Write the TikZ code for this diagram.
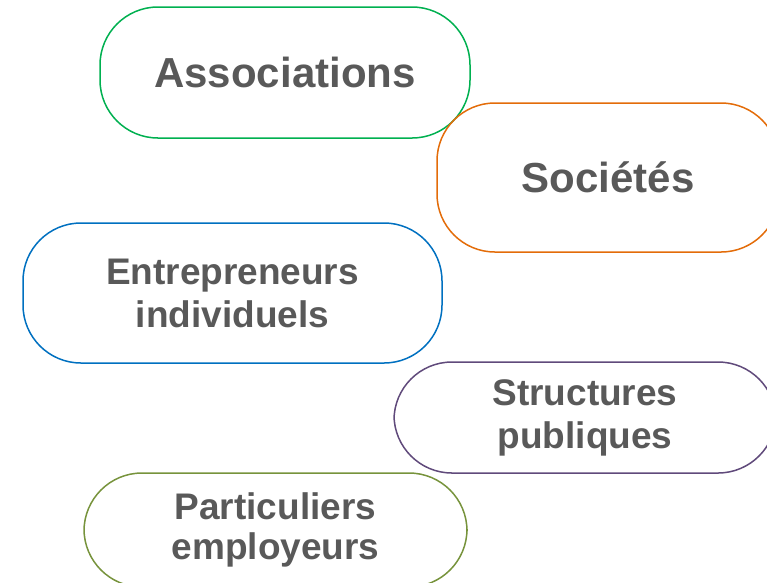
\documentclass[tikz,border=0pt]{standalone}
\usepackage{fontspec}
\setmainfont{Liberation Sans}
\usepackage{tikz}
\usepackage{xcolor}

\definecolor{txtgray}{HTML}{595959}
\definecolor{assocgreen}{HTML}{00B050}
\definecolor{socorange}{HTML}{E36C09}
\definecolor{entrblue}{HTML}{0070C0}
\definecolor{structpurple}{HTML}{604A7B}
\definecolor{partolive}{HTML}{77933C}

\begin{document}
\begin{tikzpicture}[x=1pt, y=-1pt,
  pill/.style={draw, line width=1.5pt, rectangle, rounded corners=58pt,
    align=center, text=txtgray, inner sep=0pt, font=\bfseries},
  bigtxt/.style={font=\fontsize{42}{46}\selectfont\bfseries},
  smalltxt/.style={font=\fontsize{37}{43}\selectfont\bfseries}]
\useasboundingbox (0,0) rectangle (767,582);
\clip (0,0) rectangle (767,582);

\node[pill, bigtxt, assocgreen, text=txtgray, minimum width=370pt, minimum height=131pt] (assoc) at (285,72.5) {Associations};

\node[pill, bigtxt, socorange, text=txtgray, minimum width=342pt, minimum height=149pt] (soc) at (608,177.5) {Sociétés};

\node[pill, smalltxt, entrblue, text=txtgray, minimum width=419pt, minimum height=140pt] (entr) at (232.5,293) {Entrepreneurs\\individuels};

\node[pill, smalltxt, structpurple, text=txtgray, minimum width=382pt, minimum height=111pt] (struct) at (585,417.5) {Structures\\publiques};

% bottom one runs off the page
\node[pill, smalltxt, partolive, text=txtgray, minimum width=383pt, minimum height=114pt] (part) at (275.5,530) {Particuliers\\[-3pt]employeurs};
\end{tikzpicture}
\end{document}
